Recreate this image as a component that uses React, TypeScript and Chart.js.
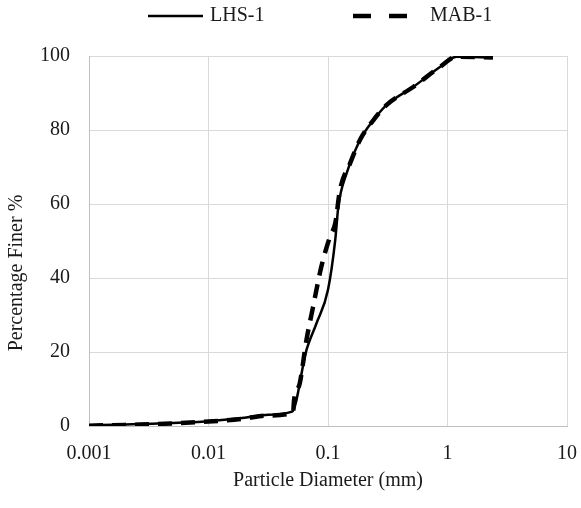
import React, { useEffect, useRef } from "react";
import { Chart, registerables } from "chart.js";

Chart.register(...registerables);

const FONT_FAMILY = "'Liberation Serif', 'Times New Roman', serif";
const TEXT_COLOR = "#1a1a1a";

const xTickValues = [0.001, 0.01, 0.1, 1, 10];
const yTickValues = [0, 20, 40, 60, 80, 100];

const seriesNames = ["LHS-1", "MAB-1"];
const xTitle = "Particle Diameter (mm)";
const yTitle = "Percentage Finer %";

const lhsDiameter = [0.001, 0.002, 0.005, 0.01, 0.02, 0.03, 0.05, 0.066, 0.08, 0.1, 0.115, 0.122, 0.143, 0.185, 0.24, 0.31, 0.52, 0.87, 1.19, 2.4];
const lhsFiner = [0.2, 0.4, 0.8, 1.3, 2.2, 3.0, 3.9, 20.5, 27.7, 36.8, 50.3, 59.3, 68.3, 77.3, 82.7, 86.8, 91.7, 97.1, 99.8, 99.6];

const mabDiameter = [0.001, 0.002, 0.005, 0.01, 0.02, 0.03, 0.051, 0.052, 0.058, 0.066, 0.075, 0.088, 0.104, 0.115, 0.126, 0.153, 0.185, 0.24, 0.31, 0.52, 0.87, 1.19, 2.4];
const mabFiner = [0.1, 0.3, 0.7, 1.2, 2.0, 2.8, 3.6, 7.0, 11.5, 23.2, 32.2, 43.1, 51.2, 54.8, 63.8, 71.0, 77.3, 82.7, 86.8, 91.7, 97.1, 99.8, 99.6];

const font = { family: FONT_FAMILY, size: 20 };

export default function App() {
  const ref = useRef<HTMLCanvasElement>(null);

  useEffect(() => {
    document.body.style.margin = "0";
    if (!ref.current) return;

    const overlay = {
      id: "overlay",
      afterDraw(chart: any) {
        const ctx = chart.ctx as CanvasRenderingContext2D;
        ctx.save();
        ctx.fillStyle = TEXT_COLOR;
        ctx.strokeStyle = "#000";
        ctx.font = `20px ${FONT_FAMILY}`;
        ctx.textBaseline = "middle";
        ctx.textAlign = "left";
        const ly = 16;
        ctx.lineWidth = 2.5;
        ctx.setLineDash([]);
        ctx.beginPath();
        ctx.moveTo(148, ly);
        ctx.lineTo(203, ly);
        ctx.stroke();
        ctx.fillText(seriesNames[0], 210, ly);
        ctx.lineWidth = 4.5;
        ctx.setLineDash([18, 18]);
        ctx.beginPath();
        ctx.moveTo(353, ly);
        ctx.lineTo(409, ly);
        ctx.stroke();
        ctx.setLineDash([]);
        ctx.fillText(seriesNames[1], 430, ly);
        ctx.translate(17, 273);
        ctx.rotate(-Math.PI / 2);
        ctx.textAlign = "center";
        ctx.fillText(yTitle, 0, 0);
        ctx.restore();
      },
    };

    const chart = new Chart(ref.current, {
      type: "scatter",
      data: {
        datasets: [
          {
            label: seriesNames[0],
            data: lhsDiameter.map((x, i) => ({ x, y: lhsFiner[i] })),
            showLine: true,
            borderColor: "#000",
            backgroundColor: "#000",
            borderWidth: 2.5,
            pointRadius: 0,
            cubicInterpolationMode: "monotone",
            fill: false,
          },
          {
            label: seriesNames[1],
            data: mabDiameter.map((x, i) => ({ x, y: mabFiner[i] })),
            showLine: true,
            borderColor: "#000",
            backgroundColor: "#000",
            borderWidth: 4.5,
            borderDash: [14, 9],
            pointRadius: 0,
            cubicInterpolationMode: "monotone",
            fill: false,
          },
        ],
      },
      options: {
        responsive: false,
        animation: false,
        layout: { padding: { top: 56, right: 14, left: 0, bottom: 0 } },
        plugins: {
          legend: { display: false },
          tooltip: { enabled: false },
        },
        scales: {
          x: {
            type: "logarithmic",
            min: 0.001,
            max: 10,
            afterBuildTicks: (s: any) => {
              s.ticks = xTickValues.map((v) => ({ value: v }));
            },
            afterFit: (s: any) => {
              s.height = 82;
              s.paddingLeft = 0;
              s.paddingRight = 0;
            },
            ticks: {
              callback: (v: any) => String(v),
              font,
              color: TEXT_COLOR,
              padding: 16,
              maxRotation: 0,
              autoSkip: false,
            },
            grid: { color: "#d9d9d9", drawTicks: false, lineWidth: 1 },
            border: { color: "#bfbfbf", width: 1 },
            title: {
              display: true,
              text: xTitle,
              font,
              color: TEXT_COLOR,
              padding: { top: 0, bottom: 15 },
            },
          },
          y: {
            type: "linear",
            min: 0,
            max: 100,
            afterBuildTicks: (s: any) => {
              s.ticks = yTickValues.map((v) => ({ value: v }));
            },
            afterFit: (s: any) => {
              s.width = 89;
            },
            ticks: {
              font,
              color: TEXT_COLOR,
              padding: 19,
            },
            grid: { color: "#d9d9d9", drawTicks: false, lineWidth: 1 },
            border: { color: "#bfbfbf", width: 1 },
          },
        },
      } as any,
      plugins: [overlay],
    });

    return () => chart.destroy();
  }, []);

  return <canvas ref={ref} width={581} height={508} style={{ display: "block" }} />;
}
